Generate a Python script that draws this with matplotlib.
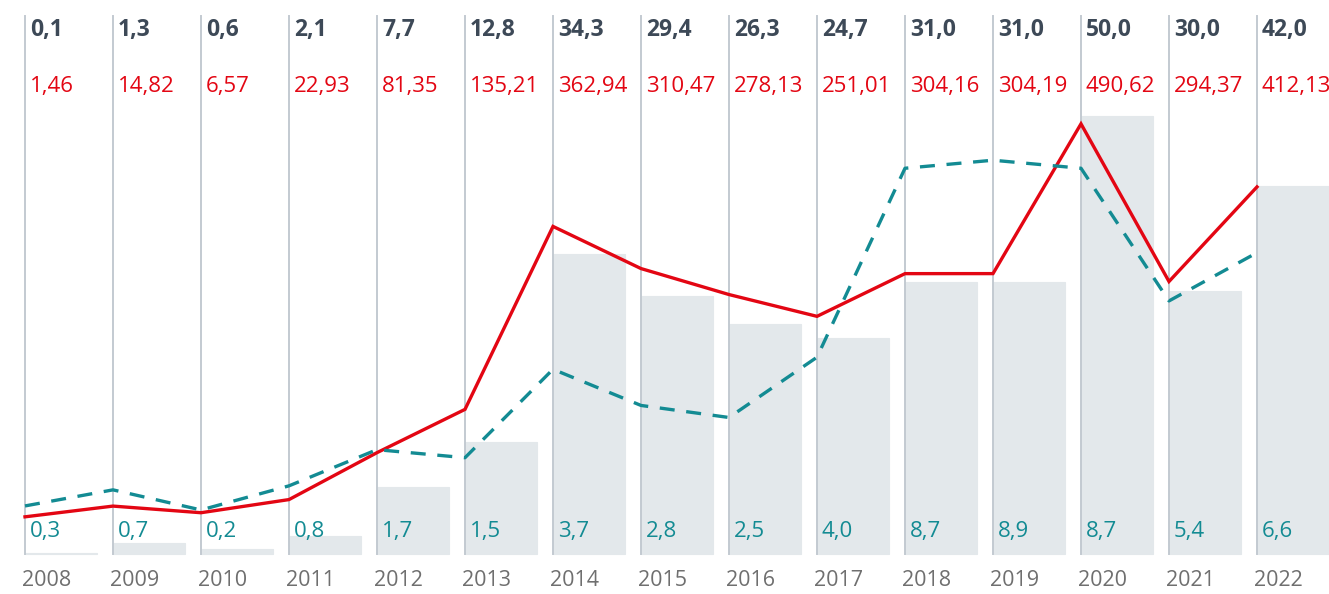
import matplotlib
matplotlib.use("Agg")
import matplotlib.pyplot as plt
from matplotlib.transforms import blended_transform_factory

years = ["2008", "2009", "2010", "2011", "2012", "2013", "2014", "2015",
         "2016", "2017", "2018", "2019", "2020", "2021", "2022"]
bar_values = [0.1, 1.3, 0.6, 2.1, 7.7, 12.8, 34.3, 29.4, 26.3, 24.7, 31.0, 31.0, 50.0, 30.0, 42.0]
red_values = [1.46, 14.82, 6.57, 22.93, 81.35, 135.21, 362.94, 310.47, 278.13, 251.01,
              304.16, 304.19, 490.62, 294.37, 412.13]
teal_values = [0.3, 0.7, 0.2, 0.8, 1.7, 1.5, 3.7, 2.8, 2.5, 4.0, 8.7, 8.9, 8.7, 5.4, 6.6]

def fmt(v, d):
    return f"{v:.{d}f}".replace(".", ",")

W, H = 1329, 594
plt.rcParams['font.family'] = ['Open Sans', 'DejaVu Sans']
fig = plt.figure(figsize=(W / 100, H / 100), dpi=100)
ax = fig.add_axes([0, 0, 1, 1])
ax.set_axis_off()

step = 88.0
x0 = 25.0
n = len(years)
xs = list(range(n))
ax.set_xlim(-x0 / step, (W - x0) / step)

# bar axis: baseline 40 px from bottom, 50 -> 438 px
bscale = 438 / 50
ax.set_ylim(-40 / bscale, (H - 40) / bscale)
bar_w = 72 / step
ax.bar(xs, bar_values, width=bar_w, align='edge', color='#e3e8eb', zorder=1,
       edgecolor='#e3e8eb', linewidth=0.8)

# vertical separator lines
for x in xs:
    ax.axvline(x, ymin=40 / H, ymax=(H - 16) / H, color='#c3cad1', lw=1.4, zorder=2)

# red line axis
axr = fig.add_axes([0, 0, 1, 1], sharex=ax)
axr.set_axis_off()
axr.patch.set_alpha(0)
rscale = 0.8034
axr.set_ylim(-76 / rscale, (H - 76) / rscale)
axr.plot(xs, red_values, color='#e30613', lw=2.4, zorder=4, solid_joinstyle='miter')

# teal line axis
axt = fig.add_axes([0, 0, 1, 1], sharex=ax)
axt.set_axis_off()
axt.patch.set_alpha(0)
tscale = 40.2
axt.set_ylim(-76 / tscale, (H - 76) / tscale)
axt.plot(xs, teal_values, color='#138b93', lw=2.4, dashes=(4.5, 3.5), zorder=3)

trans = blended_transform_factory(ax.transData, fig.transFigure)
for i in xs:
    ax.text(i + 5 / step, 1 - 30 / H, fmt(bar_values[i], 1), transform=trans,
            ha='left', va='center', fontsize=16.5, fontweight='bold', color='#3d4957')
    ax.text(i + 5 / step, 1 - 87 / H, fmt(red_values[i], 2), transform=trans,
            ha='left', va='center', fontsize=16, color='#e30613')
    ax.text(i + 5 / step, 1 - 531 / H, fmt(teal_values[i], 1), transform=trans,
            ha='left', va='center', fontsize=16, color='#138b93')
    ax.text(i - 3 / step, 1 - 580 / H, years[i], transform=trans,
            ha='left', va='center', fontsize=15.5, color='#6f6f6f')

fig.savefig("out.png", dpi=100)
